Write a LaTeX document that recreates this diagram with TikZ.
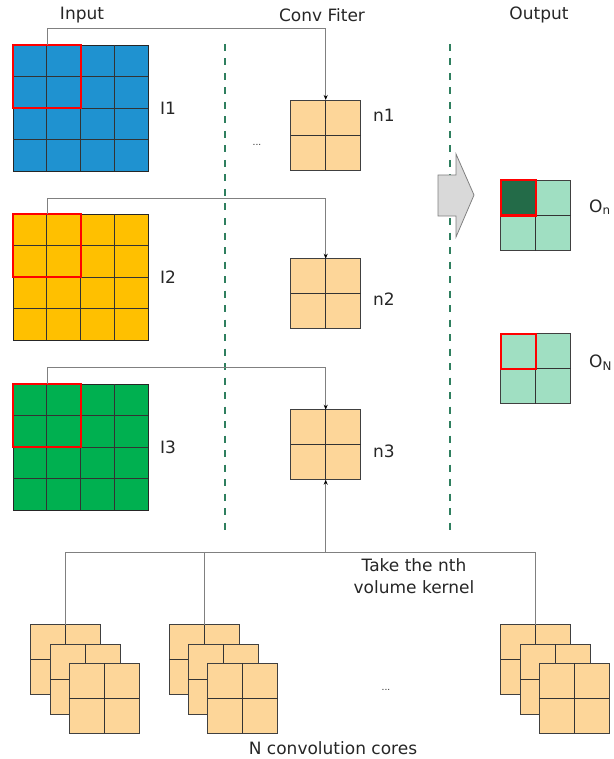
\documentclass[tikz,border=0pt]{standalone}
\usepackage{fontspec}
\setmainfont{DejaVu Sans}
\usepackage{tikz}
\usetikzlibrary{arrows.meta,positioning,calc}

\definecolor{inblue}{HTML}{1F92D0}
\definecolor{inyellow}{HTML}{FFC000}
\definecolor{ingreen}{HTML}{00B050}
\definecolor{kern}{HTML}{FDD699}
\definecolor{outlight}{HTML}{A0DFC2}
\definecolor{outdark}{HTML}{236B48}
\definecolor{sepcol}{HTML}{2F7F5F}
\definecolor{linkcol}{HTML}{808080}

\begin{document}
\begin{tikzpicture}[x=1pt, y=-1pt,
  every node/.style={font=\fontsize{17}{22}\selectfont},
  inbox/.style={draw=black!85, line width=0.7pt, minimum width=135pt, minimum height=126pt, inner sep=0pt, outer sep=0pt, anchor=north west},
  redbox/.style={draw=red, line width=2pt, minimum width=68pt, minimum height=63pt, inner sep=0pt, outer sep=0pt, anchor=north west},
  kbox/.style={draw=black!75, line width=0.7pt, fill=kern, minimum width=70pt, minimum height=70pt, inner sep=0pt, outer sep=0pt},
  obox/.style={kbox, fill=outlight},
  cellline/.style={draw=black!80, line width=0.7pt},
  link/.style={draw=linkcol, line width=0.8pt},
  flow/.style={link, -{Stealth[length=5pt,width=4pt,black]}},
  sep/.style={draw=sepcol, line width=1.8pt, dash pattern=on 7pt off 7.5pt},
  lbl/.style={inner sep=0pt, text=black!85}]
  \useasboundingbox (0,0) rectangle (613,759);

  % Column titles
  \node[lbl] (tin) at (82,15) {Input};
  \node[lbl] (tconv) at (322,15) {Conv Fiter};
  \node[lbl] (tout) at (539,15) {Output};

  % Separators
  \draw[sep] (225,44) -- (225,536);
  \draw[sep] (450,44) -- (450,536);

  % Input maps
  \foreach \name/\top/\col in {I1/45/inblue, I2/214/inyellow, I3/384/ingreen} {
    \node[inbox, fill=\col] (\name) at (13,\top) {};
    \foreach \k in {0.25,0.5,0.75} {
      \draw[cellline] ($(\name.north west)!\k!(\name.north east)$) -- ($(\name.south west)!\k!(\name.south east)$);
      \draw[cellline] ($(\name.north west)!\k!(\name.south west)$) -- ($(\name.north east)!\k!(\name.south east)$);
    }
    \node[redbox] (r\name) at (\name.north west) {};
    \node[lbl, right=12pt of \name] (l\name) {\name};
  }

  % Conv filters
  \foreach \name/\y/\ly in {n1/135/115, n2/293.7/299, n3/444.7/451} {
    \node[kbox] (\name) at (325.7,\y) {};
    \draw[cellline] (\name.north) -- (\name.south);
    \draw[cellline] (\name.west) -- (\name.east);
    \node[lbl, anchor=west] (l\name) at (373,\ly) {\name};
  }
  \node[lbl] (dots1) at (257,145) {\fontsize{9}{9}\selectfont ...};

  % Input windows to filters
  \draw[flow] (rI1.north) -- ++(0,-17) -| (n1.north);
  \draw[flow] (rI2.north) -- ++(0,-16) -| (n2.north);
  \draw[flow] (rI3.north) -- ++(0,-17) -| (n3.north);

  % Block arrow
  \draw[draw=black!50, fill=black!15, line width=0.8pt]
    (438,175) -- (456,175) -- (456,154) -- (474,195) -- (456,237) -- (456,216) -- (438,216) -- cycle;

  % Output maps
  \foreach \name/\y in {o1/215.5, o2/368.5} {
    \node[obox] (\name) at (535.7,\y) {};
    \draw[cellline] (\name.north) -- (\name.south);
    \draw[cellline] (\name.west) -- (\name.east);
  }
  \node[draw=red, line width=2pt, fill=outdark, minimum width=35pt, minimum height=35pt, inner sep=0pt, outer sep=0pt, anchor=north west] (ro1) at (o1.north west) {};
  \node[draw=red, line width=2pt, minimum width=35pt, minimum height=35pt, inner sep=0pt, outer sep=0pt, anchor=north west] (ro2) at (o2.north west) {};
  \node[lbl, anchor=west] (lo1) at (589,207) {O\textsubscript{n}};
  \node[lbl, anchor=west] (lo2) at (589,363) {O\textsubscript{N}};

  % N convolution cores
  \foreach \i/\x in {1/30.7, 2/169, 3/500.7} {
    \foreach \j/\d in {b/0, m/19.3, f/38.6} {
      \node[kbox, anchor=north west] (k\i\j) at (\x+\d,624.7+\d) {};
      \draw[cellline] (k\i\j.north) -- (k\i\j.south);
      \draw[cellline] (k\i\j.west) -- (k\i\j.east);
    }
  }
  \node[lbl] (dots2) at (386,690) {\fontsize{9}{9}\selectfont ...};

  % Pick the nth kernel
  \coordinate (hub) at (325.7,552);
  \draw[link] (k1b.north) |- (hub);
  \draw[link] (k3b.north) |- (hub);
  \draw[link] (k2b.north) -- (k2b.north |- hub);
  \draw[flow] (hub) -- (n3.south);
  \node[lbl, align=center] (take) at (414,576) {Take the nth\\volume kernel};
  \node[lbl] (cores) at (333,748) {N convolution cores};
\end{tikzpicture}
\end{document}
